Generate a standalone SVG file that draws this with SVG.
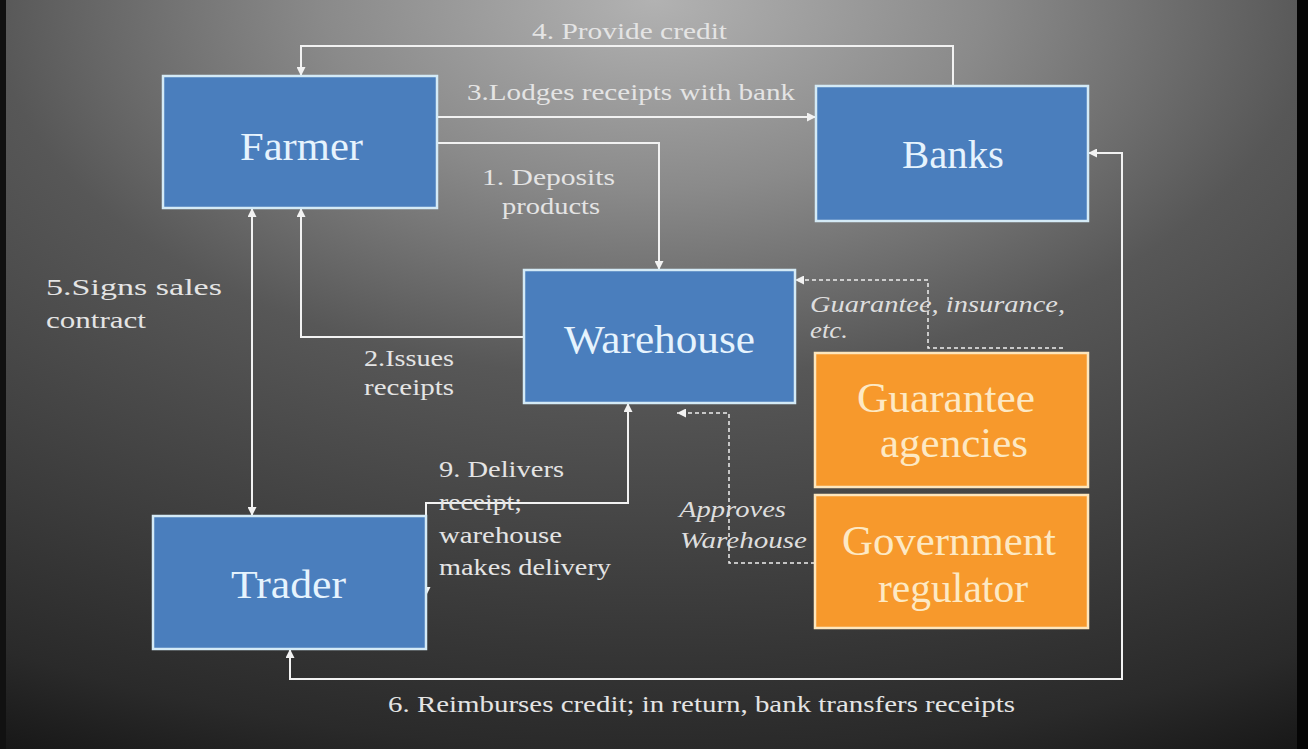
<svg xmlns="http://www.w3.org/2000/svg" width="1308" height="749" viewBox="0 0 1308 749">
<defs>
<radialGradient id="bg" cx="0.5" cy="0" r="1.15" fx="0.5" fy="0">
<stop offset="0" stop-color="#b2b2b2"/>
<stop offset="0.22" stop-color="#8a8a8a"/>
<stop offset="0.44" stop-color="#575757"/>
<stop offset="0.87" stop-color="#2a2a2a"/>
<stop offset="1" stop-color="#121212"/>
</radialGradient>
<marker id="ah" viewBox="0 0 10 10" refX="10" refY="5" markerUnits="userSpaceOnUse" markerWidth="9" markerHeight="9" orient="auto-start-reverse">
<path d="M0,0 L10,5 L0,10 z" fill="#f2f2f2"/>
</marker>
</defs>
<style>
.blue{fill:#4a7ebd;stroke:#d4eaf6;stroke-width:2.5}
.orange{fill:#f7992c;stroke:#fde6bd;stroke-width:2.5}
.nl{font-family:"Liberation Serif","Times New Roman",serif;font-size:41px;fill:#e6f3fd}
.ol{font-family:"Liberation Serif","Times New Roman",serif;font-size:42px;fill:#fde9c4}
.lb{font-family:"Liberation Serif","Times New Roman",serif;font-size:23px;fill:#e4e4e4}
.it{font-family:"Liberation Serif","Times New Roman",serif;font-size:23px;font-style:italic;fill:#dedede}
.ln{fill:none;stroke:#f2f2f2;stroke-width:2}
.ds{fill:none;stroke:#eeeeee;stroke-width:1.5;stroke-dasharray:4 3}
</style>
<rect x="0" y="0" width="1308" height="749" fill="url(#bg)"/>
<rect x="0" y="0" width="6" height="749" fill="#111"/>
<rect x="1297" y="0" width="11" height="749" fill="#050505"/>

<g id="connectors">
<path class="ln" d="M953,86 V46 H301 V76" marker-end="url(#ah)"/>
<path class="ln" d="M437,117 H816" marker-end="url(#ah)"/>
<path class="ln" d="M437,143 H659 V270" stroke-width="3" marker-end="url(#ah)"/>
<path class="ln" d="M524,337 H301 V208" marker-end="url(#ah)"/>
<path class="ln" d="M252,208 V516" marker-start="url(#ah)" marker-end="url(#ah)"/>
<path class="ln" d="M628,403 V503 H426 V596" marker-start="url(#ah)" marker-end="url(#ah)"/>
<path class="ln" d="M1088,153 H1122 V679 H290 V649" marker-start="url(#ah)" marker-end="url(#ah)"/>
<path class="ds" d="M1063,348 H928 V280 H795" marker-end="url(#ah)"/>
<path class="ds" d="M815,563 H729 V413 H677" marker-end="url(#ah)"/>
</g>

<g id="labels">
<text class="lb" x="532" y="39" textLength="195" lengthAdjust="spacingAndGlyphs">4. Provide credit</text>
<text class="lb" x="467" y="100" textLength="328" lengthAdjust="spacingAndGlyphs">3.Lodges receipts with bank</text>
<text class="lb" x="482" y="185" textLength="133" lengthAdjust="spacingAndGlyphs">1. Deposits</text>
<text class="lb" x="502" y="214" textLength="98" lengthAdjust="spacingAndGlyphs">products</text>
<text class="lb" x="364" y="366" textLength="90" lengthAdjust="spacingAndGlyphs">2.Issues</text>
<text class="lb" x="364" y="395" textLength="90" lengthAdjust="spacingAndGlyphs">receipts</text>
<text class="lb" x="46" y="295" textLength="176" lengthAdjust="spacingAndGlyphs">5.Signs sales</text>
<text class="lb" x="46" y="328" textLength="100" lengthAdjust="spacingAndGlyphs">contract</text>
<text class="lb" x="439" y="477" textLength="125" lengthAdjust="spacingAndGlyphs">9. Delivers</text>
<text class="lb" x="439" y="510" textLength="83" lengthAdjust="spacingAndGlyphs">receipt;</text>
<text class="lb" x="439" y="543" textLength="123" lengthAdjust="spacingAndGlyphs">warehouse</text>
<text class="lb" x="439" y="575" textLength="172" lengthAdjust="spacingAndGlyphs">makes delivery</text>
<text class="it" x="810" y="312" textLength="255" lengthAdjust="spacingAndGlyphs">Guarantee, insurance,</text>
<text class="it" x="810" y="338" textLength="38" lengthAdjust="spacingAndGlyphs">etc.</text>
<text class="it" x="679" y="517" textLength="107" lengthAdjust="spacingAndGlyphs">Approves</text>
<text class="it" x="680" y="548" textLength="127" lengthAdjust="spacingAndGlyphs">Warehouse</text>
<text class="lb" x="388" y="712" textLength="627" lengthAdjust="spacingAndGlyphs">6. Reimburses credit; in return, bank transfers receipts</text>
</g>

<g id="farmer">
<rect class="blue" x="163" y="76" width="274" height="132"/>
<text class="nl" x="240" y="160" textLength="123" lengthAdjust="spacingAndGlyphs">Farmer</text>
</g>
<g id="banks">
<rect class="blue" x="816" y="86" width="272" height="135"/>
<text class="nl" x="902" y="168" textLength="102" lengthAdjust="spacingAndGlyphs">Banks</text>
</g>
<g id="warehouse">
<rect class="blue" x="524" y="270" width="271" height="133"/>
<text class="nl" x="564" y="353" textLength="191" lengthAdjust="spacingAndGlyphs">Warehouse</text>
</g>
<g id="trader">
<rect class="blue" x="153" y="516" width="273" height="133"/>
<text class="nl" x="231" y="598" textLength="115" lengthAdjust="spacingAndGlyphs">Trader</text>
</g>
<g id="guarantee">
<rect class="orange" x="815" y="353" width="273" height="134"/>
<text class="ol" x="857" y="412" textLength="178" lengthAdjust="spacingAndGlyphs">Guarantee</text>
<text class="ol" x="880" y="457" textLength="148" lengthAdjust="spacingAndGlyphs">agencies</text>
</g>
<g id="regulator">
<rect class="orange" x="815" y="495" width="273" height="133"/>
<text class="ol" x="842" y="555" textLength="214" lengthAdjust="spacingAndGlyphs">Government</text>
<text class="ol" x="878" y="602" textLength="150" lengthAdjust="spacingAndGlyphs">regulator</text>
</g>
</svg>
